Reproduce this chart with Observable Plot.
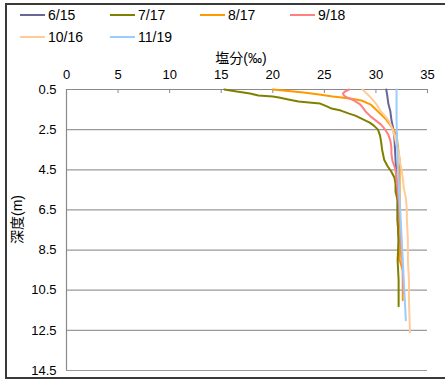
<!DOCTYPE html>
<html>
<head>
<meta charset="utf-8">
<script src="https://cdn.jsdelivr.net/npm/d3@7"></script>
<script src="https://cdn.jsdelivr.net/npm/@observablehq/plot@0.6"></script>
<style>
  html, body { margin: 0; padding: 0; background: #fff; overflow: hidden; }
  #wrap { position: relative; width: 445px; height: 383px; overflow: hidden;
          font-family: "Liberation Sans", "Noto Sans CJK JP", sans-serif; }
  #frame { position: absolute; left: 5px; top: 3px; width: 470px; height: 376px;
           border: 2px solid #3a3a3a; box-sizing: border-box; }
  #legend { position: absolute; left: 0; top: 0; width: 445px; height: 45px; font-size: 14px; color: #000; }
  .item { position: absolute; height: 16px; line-height: 16px; white-space: nowrap; }
  .sw { position: absolute; left: 0; top: 7px; width: 25px; height: 2px; }
  .lab { position: absolute; left: 28px; top: 0; }
  #chart { position: absolute; left: 0; top: 45px; }
</style>
</head>
<body>
<div id="wrap">
  <div id="frame"></div>
  <div id="legend"></div>
  <div id="chart"></div>
</div>
<script>
// ---- data ----
const seriesNames = ["6/15", "7/17", "8/17", "9/18", "10/16", "11/19"];
const seriesColors = ["#666699", "#808000", "#FF9900", "#FF8080", "#FFCC99", "#99CCFF"];
const xTicks = [0, 5, 10, 15, 20, 25, 30, 35];
const yTicks = [0.5, 2.5, 4.5, 6.5, 8.5, 10.5, 12.5, 14.5];

const depth_0615 = [0.5, 0.8, 1.2, 1.6, 2.0, 2.5, 3.0, 4.0, 5.0, 6.0, 7.0, 8.0, 9.0];
const sal_0615   = [31.0, 31.1, 31.2, 31.4, 31.5, 31.7, 31.8, 31.9, 32.0, 32.1, 32.1, 32.2, 32.2];

const depth_0717 = [0.5, 0.6, 0.7, 0.8, 0.85, 0.9, 1.0, 1.1, 1.15, 1.2, 1.35, 1.45, 1.55, 1.7, 1.8, 2.0, 2.15, 2.3, 2.5, 2.8, 3.1, 3.5, 4.0, 4.3, 4.6, 4.9, 5.2, 5.6, 6.0, 7.0, 8.0, 9.0, 10.0, 11.3];
const sal_0717   = [15.3, 16.5, 17.8, 18.6, 20.0, 20.6, 21.5, 22.5, 23.5, 24.6, 25.3, 25.7, 26.6, 27.4, 28.0, 28.8, 29.4, 29.8, 30.2, 30.4, 30.5, 30.6, 30.8, 31.1, 31.5, 31.8, 31.9, 31.9, 32.1, 32.1, 32.2, 32.1, 32.2, 32.2];

const depth_0817 = [0.5, 0.6, 0.65, 0.75, 0.85, 0.95, 1.05, 1.25, 1.5, 1.75, 2.0, 2.35, 2.75, 3.2, 3.6, 4.0, 5.0, 6.0, 7.0, 8.0, 9.0, 9.5, 10.5, 11.0];
const sal_0817   = [20.0, 22.0, 23.0, 24.5, 25.8, 27.5, 28.6, 29.5, 30.0, 30.5, 31.0, 31.5, 32.0, 32.1, 32.2, 32.3, 32.3, 32.3, 32.3, 32.4, 32.3, 32.6, 32.6, 32.6];

const depth_0918 = [0.5, 0.6, 0.7, 0.8, 0.9, 1.05, 1.25, 1.45, 1.6, 1.85, 2.05, 2.25, 2.5, 2.75, 3.05, 3.4, 3.7, 4.05, 4.5, 5.0, 5.5, 6.0, 6.5, 7.5, 8.5, 9.5, 10.7];
const sal_0918   = [27.4, 27.0, 26.8, 26.9, 27.2, 27.9, 28.5, 28.8, 29.0, 29.5, 30.0, 30.5, 30.9, 31.2, 31.4, 31.5, 31.5, 31.6, 31.9, 32.0, 32.1, 32.2, 32.3, 32.4, 32.5, 32.6, 32.7];

const depth_1016 = [0.5, 0.7, 0.9, 1.2, 1.6, 1.9, 2.1, 2.6, 3.25, 3.6, 4.05, 4.5, 4.9, 5.4, 5.9, 6.5, 7.0, 8.0, 9.0, 10.0, 11.0, 12.6];
const sal_1016   = [28.7, 29.1, 29.5, 30.0, 30.5, 31.0, 31.3, 31.7, 32.0, 32.2, 32.3, 32.5, 32.6, 32.7, 32.9, 33.0, 33.0, 33.1, 33.1, 33.2, 33.2, 33.3];

const depth_1119 = [0.5, 1.0, 2.0, 3.0, 4.0, 5.0, 6.0, 7.0, 8.0, 9.0, 10.0, 11.0, 12.0];
const sal_1119   = [32.0, 32.0, 32.0, 32.05, 32.1, 32.2, 32.3, 32.4, 32.5, 32.6, 32.7, 32.8, 32.9];

const depths = [depth_0615, depth_0717, depth_0817, depth_0918, depth_1016, depth_1119];
const sals = [sal_0615, sal_0717, sal_0817, sal_0918, sal_1016, sal_1119];

const rows = [];
seriesNames.forEach((name, i) => {
  depths[i].forEach((d, j) => rows.push({series: name, depth: d, sal: sals[i][j]}));
});

// ---- legend ----
const legend = document.getElementById("legend");
const legendPos = [[20, 7], [110, 7], [200, 7], [290, 7], [20, 29], [110, 29]];
seriesNames.forEach((name, i) => {
  const it = document.createElement("div");
  it.className = "item";
  it.style.left = legendPos[i][0] + "px";
  it.style.top = legendPos[i][1] + "px";
  it.innerHTML = `<span class="sw" style="background:${seriesColors[i]}"></span><span class="lab">${name}</span>`;
  legend.appendChild(it);
});

// ---- chart ----
const W = 445, H = 338, mT = 44, mB = 13, mL = 66, mR = 18;
const frameH = H - mT - mB;
const chart = Plot.plot({
  width: W, height: H,
  marginTop: mT, marginBottom: mB, marginLeft: mL, marginRight: mR,
  style: {fontFamily: '"Liberation Sans", "Noto Sans CJK JP", sans-serif', fontSize: "13px", color: "#000", background: "transparent"},
  x: {domain: [0, 35]},
  y: {domain: [0.5, 14.5], reverse: true},
  color: {domain: seriesNames, range: seriesColors},
  marks: [
    Plot.ruleY(yTicks.slice(1), {stroke: "#9a9a9a", strokeWidth: 1.2}),
    Plot.ruleY([yTicks[0]], {stroke: "#8a8a8a", strokeWidth: 1.2}),
    Plot.ruleX([xTicks[0]], {stroke: "#8a8a8a", strokeWidth: 1.2}),
    Plot.ruleX(xTicks.slice(1), {stroke: "#8a8a8a", strokeWidth: 1, insetBottom: frameH - 4}),
    Plot.axisX({anchor: "top", ticks: xTicks, tickSize: 0, tickPadding: 11, label: null, fontSize: 13}),
    Plot.axisY({ticks: yTicks, tickSize: 0, tickPadding: 10, label: null, tickFormat: d => d.toFixed(1), fontSize: 13}),
    Plot.text(["塩分(‰)"], {frameAnchor: "top", dx: -6, dy: -36, fontSize: 14, fill: "#000"}),
    Plot.text(["深度(m)"], {frameAnchor: "left", dx: -49, dy: 14, rotate: -90, fontSize: 14, fill: "#000"}),
    Plot.line(rows, {x: "sal", y: "depth", z: "series", stroke: "series", strokeWidth: 2, curve: "linear"})
  ]
});
document.getElementById("chart").appendChild(chart);
</script>
</body>
</html>
